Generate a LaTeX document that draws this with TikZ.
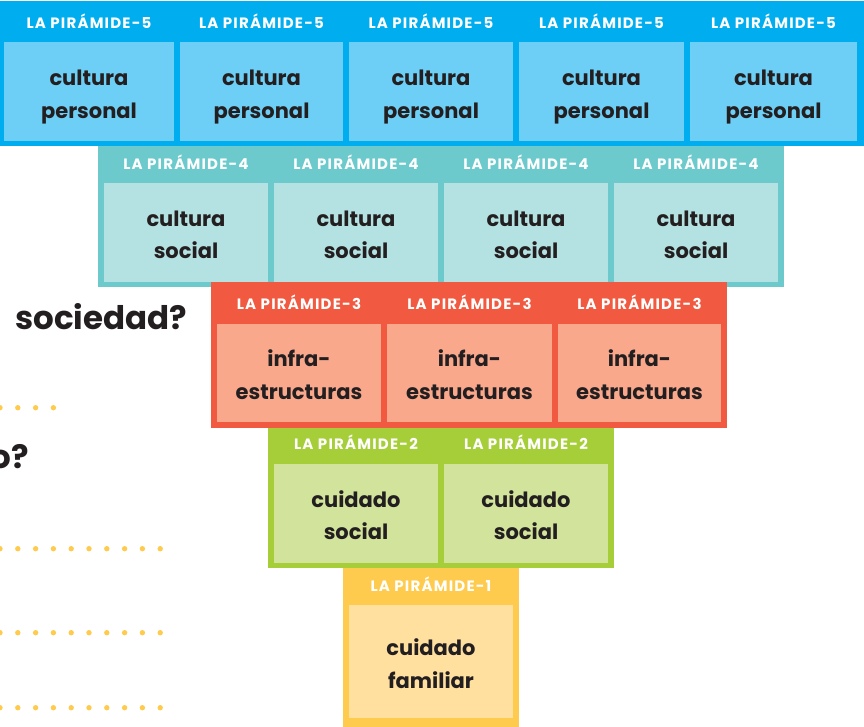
\documentclass[tikz,border=0pt]{standalone}
\usepackage{fontspec}
\setmainfont{Poppins}
\definecolor{dfive}{HTML}{00AEEF}
\definecolor{lfive}{HTML}{6DCFF6}
\definecolor{dfour}{HTML}{6CCACD}
\definecolor{lfour}{HTML}{B4E1E1}
\definecolor{dthree}{HTML}{F15A40}
\definecolor{lthree}{HTML}{F9A88C}
\definecolor{dtwo}{HTML}{A6CE39}
\definecolor{ltwo}{HTML}{D2E39B}
\definecolor{done}{HTML}{FFCB4E}
\definecolor{lone}{HTML}{FFE09F}
\definecolor{ink}{HTML}{231F20}
\begin{document}
\begin{tikzpicture}[x=1pt,y=-1pt,
  band/.style={draw=none, inner sep=0pt, outer sep=0pt},
  cellbox/.style={draw=none, inner sep=0pt, outer sep=0pt},
  hdr/.style={anchor=base, inner sep=0pt, text=white, font=\fontsize{15}{15}\selectfont\bfseries\addfontfeature{LetterSpace=8}},
  body/.style={anchor=base, inner sep=0pt, text=ink, font=\fontsize{21}{21}\selectfont\bfseries},
  question/.style={anchor=base, inner sep=0pt, text=ink, font=\fontsize{32.5}{32.5}\selectfont\bfseries},
  dot/.style={fill=done}]
\useasboundingbox (0,0) rectangle (864,726);
\clip (0,0) rectangle (864,726);
% left texts and dots
\node[question, anchor=base west] (q1) at (15,329) {sociedad?};
\node[question, anchor=base east] (q2) at (29,468) {o?};
\foreach \x in {0,17.8,35.6,53.4} \fill[dot] (\x,407.7) circle (2.7);
\foreach \yy in {548.7,632.7,707.7}
  \foreach \i in {0,...,9} \fill[dot] ({\i*17.8},\yy) circle (2.7);
% level 1
\node[band, fill=done, minimum width=176, minimum height=162] (b1) at (431,649) {};
\node[cellbox, fill=lone, minimum width=164, minimum height=113] (c1a) at (431,661.5) {};
\node[hdr] (h1a) at (431,591.5) {LA PIRÁMIDE-1};
\node[body] (t1a1) at (431,655) {cuidado};
\node[body] (t1a2) at (431,688.3) {familiar};
% level 2
\node[band, fill=dtwo, minimum width=346, minimum height=142] (b2) at (441,497) {};
\foreach \n/\xl/\xr in {a/274/438, b/444/608}{
  \node[cellbox, fill=ltwo, minimum width={\xr-\xl}, minimum height=99] (c2\n) at ({(\xl+\xr)/2},513.5) {};
  \node[hdr] (h2\n) at ({(\xl+\xr)/2},449.3) {LA PIRÁMIDE-2};
  \node[body] (t2\n1) at ({(\xl+\xr)/2},507) {cuidado};
  \node[body] (t2\n2) at ({(\xl+\xr)/2},539) {social};
}
% level 4
\node[band, fill=dfour, minimum width=686, minimum height=141] (b4) at (441,216.5) {};
\foreach \n/\xl/\xr in {a/104/268, b/274/438, c/444/608, d/614/778}{
  \node[cellbox, fill=lfour, minimum width={\xr-\xl}, minimum height=99] (c4\n) at ({(\xl+\xr)/2},232.5) {};
  \node[hdr] (h4\n) at ({(\xl+\xr)/2},169.3) {LA PIRÁMIDE-4};
  \node[body] (t4\n1) at ({(\xl+\xr)/2},226) {cultura};
  \node[body] (t4\n2) at ({(\xl+\xr)/2},258.3) {social};
}
% level 3
\node[band, fill=dthree, minimum width=516, minimum height=146] (b3) at (469,355) {};
\foreach \n/\xl/\xr in {a/217/381, b/387/552, c/558/721}{
  \node[cellbox, fill=lthree, minimum width={\xr-\xl}, minimum height=98] (c3\n) at ({(\xl+\xr)/2},373) {};
  \node[hdr] (h3\n) at ({(\xl+\xr)/2},309.3) {LA PIRÁMIDE-3};
  \node[body] (t3\n1) at ({(\xl+\xr)/2},366.7) {infra-};
  \node[body] (t3\n2) at ({(\xl+\xr)/2},399.3) {estructuras};
}
% level 5
\node[band, fill=dfive, minimum width=864, minimum height=145] (b5) at (432,73.5) {};
\foreach \n/\xl/\xr in {a/4/174, b/180/343, c/349/513, d/519/684, e/690/857}{
  \node[cellbox, fill=lfive, minimum width={\xr-\xl}, minimum height=99] (c5\n) at ({(\xl+\xr)/2},91.5) {};
  \node[hdr] (h5\n) at ({(\xl+\xr)/2},28.3) {LA PIRÁMIDE-5};
  \node[body] (t5\n1) at ({(\xl+\xr)/2},85) {cultura};
  \node[body] (t5\n2) at ({(\xl+\xr)/2},118) {personal};
}
\end{tikzpicture}
\end{document}
